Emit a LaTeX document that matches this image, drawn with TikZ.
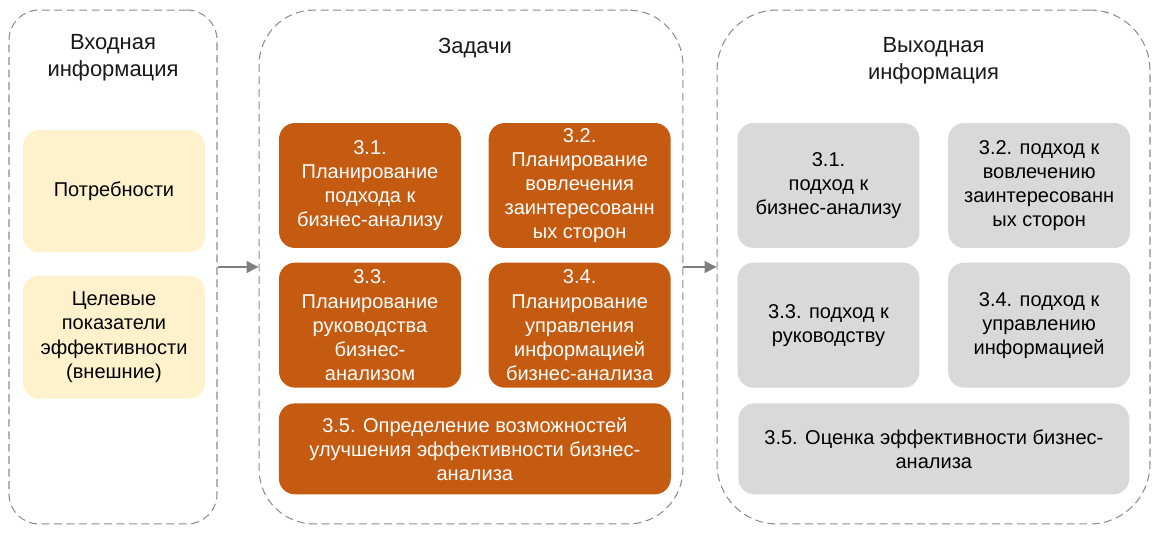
\documentclass[tikz,border=0pt]{standalone}
\usepackage{fontspec}
\setmainfont{Liberation Sans}
\usepackage{xcolor}
\usepackage{tikz}
\usetikzlibrary{shapes,arrows.meta,positioning,calc}

\definecolor{taskorange}{HTML}{C55A11}
\definecolor{inyellow}{HTML}{FEF2CD}
\definecolor{outgray}{HTML}{D9D9D9}
\definecolor{framegray}{HTML}{8C8C8C}
\definecolor{arrowgray}{HTML}{7F7F7F}

\begin{document}
\begin{tikzpicture}[
        x=0.02cm, y=-0.02cm,
        font=\fontsize{11.4}{13.7}\selectfont,
        frame/.style={rectangle, draw=framegray, line width=0.6pt, dash pattern=on 4.5pt off 2.6pt, minimum height=10.28cm},
        title/.style={align=center, text=black!90, font=\fontsize{12.5}{15.4}\selectfont},
        box/.style={rectangle, rounded corners=0.32cm, align=center, minimum width=3.64cm, inner sep=2pt},
        inbox/.style={box, fill=inyellow, text=black},
        task/.style={box, fill=taskorange, text=white, minimum height=2.5cm},
        outbox/.style={box, fill=outgray, text=black, minimum height=2.5cm},
        arr/.style={-{Triangle[length=0.24cm,width=0.24cm]}, draw=arrowgray, fill=arrowgray, line width=0.8pt}
    ]
        \useasboundingbox (0,0) rectangle (1165,533);

        % frames
        \node[frame, rounded corners=0.6cm, minimum width=4.16cm] (inframe) at (113,267) {};
        \node[frame, rounded corners=1.1cm, minimum width=8.48cm] (taskframe) at (471,267) {};
        \node[frame, rounded corners=1.2cm, minimum width=8.66cm] (outframe) at (933.5,267) {};

        \node[title] (intitle) at (113,58) {Входная\\информация};
        \node[title] (tasktitle) at (475,48) {Задачи};
        \node[title] (outtitle) at (933.5,61) {Выходная\\информация};

        % input
        \node[inbox, minimum height=2.44cm] (needs) at (114,191) {Потребности};
        \node[inbox, minimum height=2.46cm, below=0.46cm of needs] (kpi) {Целевые\\показатели\\эффективности\\(внешние)};

        % tasks
        \node[task] (t31) at (370,185.5) {3.1.\\Планирование\\подхода к\\бизнес-анализу};
        \node[task, right=0.54cm of t31] (t32) {3.2.\\Планирование\\вовлечения\\заинтересованн\\ых сторон};
        \node[task, below=0.28cm of t31] (t33) {3.3.\\Планирование\\руководства\\бизнес-\\анализом};
        \node[task, below=0.28cm of t32] (t34) {3.4.\\Планирование\\управления\\информацией\\бизнес-анализа};
        \node[task, minimum width=7.84cm, minimum height=1.82cm, anchor=north] (t35) at ($(t33.south)!0.5!(t34.south)+(0,15)$) {3.5. Определение возможностей\\улучшения эффективности бизнес-\\анализа};

        % outputs
        \node[outbox] (o31) at (828.5,185.5) {3.1.\\подход к\\бизнес-анализу};
        \node[outbox, right=0.56cm of o31] (o32) {3.2. подход к\\вовлечению\\заинтересованн\\ых сторон};
        \node[outbox, below=0.28cm of o31] (o33) {3.3. подход к\\руководству};
        \node[outbox, below=0.28cm of o32] (o34) {3.4. подход к\\управлению\\информацией};
        \node[outbox, minimum width=7.82cm, minimum height=1.82cm, anchor=north] (o35) at ($(o33.south)!0.5!(o34.south)+(0,15)$) {3.5. Оценка эффективности бизнес-\\анализа};

        \draw[arr] (inframe.east) -- (taskframe.west);
        \draw[arr] (taskframe.east) -- (outframe.west);
    \end{tikzpicture}
\end{document}
